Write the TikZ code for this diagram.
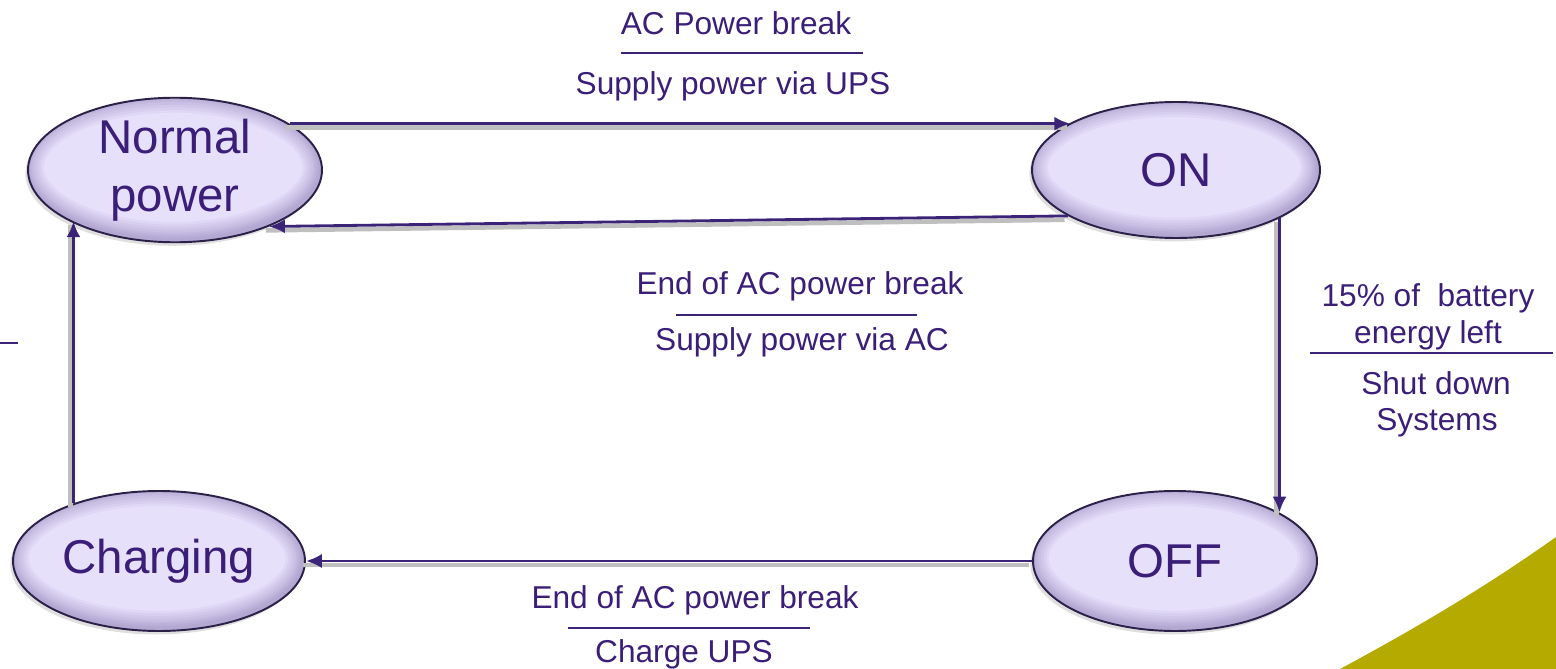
\documentclass[tikz,border=0pt]{standalone}
\usepackage{fontspec}
\setmainfont{Liberation Sans}
\usetikzlibrary{shapes.geometric,arrows.meta,shadows,calc}
\definecolor{txtc}{HTML}{3A1E78}
\definecolor{linec}{HTML}{3B2378}
\definecolor{rimc}{HTML}{2A2048}
\definecolor{lavin}{HTML}{E7E0FB}
\definecolor{lavrim}{HTML}{7A6AA6}
\definecolor{olivec}{HTML}{B5AA00}
\tikzset{
  state/.style={ellipse, inner sep=0pt, fill=lavin, draw=rimc, line width=1.1pt,
    text=txtc, font=\fontsize{27}{33}\selectfont, align=center,
    drop shadow={opacity=0.25, shadow xshift=-1.5pt, shadow yshift=-2pt},
    path picture={
      \foreach \w in {20pt,17pt,14pt,11pt,8pt,6pt,4pt,2pt}{
        \draw[lavrim, line width=\w, opacity=0.07]
          let \p1=($(path picture bounding box.north east)-(path picture bounding box.center)$) in
          ([xshift=-1pt,yshift=1.5pt]path picture bounding box.center) ellipse [x radius=\x1, y radius=\y1];
      }
    }},
  arr/.style={draw=linec, line width=1.6pt, -{Latex[length=9pt,width=8pt]},
    preaction={draw=black!25, line width=2.6pt, -, transform canvas={xshift=-1.8pt,yshift=-2.2pt}}},
  lbl/.style={text=txtc, font=\fontsize{18}{21}\selectfont, anchor=base, inner sep=0pt},
  sep/.style={draw=linec, line width=1pt},
}
\begin{document}
\begin{tikzpicture}[x=0.02cm, y=-0.02cm]
\useasboundingbox (0,0) rectangle (1556,669);
% decorative olive shape
\fill[olivec] (1340,669) .. controls (1420,626) and (1490,584) .. (1556,537) -- (1556,669) -- cycle;
% states
\node[state, minimum width=5.88cm, minimum height=2.8cm] (Normal) at (175,170) {Normal\\power};
\node[state, minimum width=5.76cm, minimum height=2.72cm] (ON) at (1176,170) {ON};
\node[state, minimum width=5.84cm, minimum height=2.8cm] (Charging) at (159,561) {Charging};
\node[state, minimum width=5.68cm, minimum height=2.8cm] (OFF) at (1175,561) {OFF};
% transitions
\draw[arr] (Normal.22.5) -- (Normal.22.5 -| ON.156.5);
\draw[arr] (ON.203.5) -- (Normal.-31);
\draw[arr] (ON.-25.6) -- (ON.-25.6 |- OFF.25.5);
\draw[arr] (OFF.west) -- (Charging.east);
\draw[arr] (Charging.146.6) -- (Charging.146.6 |- Normal.206.3);
% labels top
\node[lbl] (l1a) at (736,35) {AC Power break};
\coordinate (s1a) at (621,53); \coordinate (s1b) at (863,53);
\draw[sep] (s1a) -- (s1b);
\node[lbl] (l1b) at (733,95) {Supply power via UPS};
% labels middle
\node[lbl] (l2a) at (800,294) {End of AC power break};
\coordinate (s2a) at (676,315); \coordinate (s2b) at (917,315);
\draw[sep] (s2a) -- (s2b);
\node[lbl] (l2b) at (802,350) {Supply power via AC};
% labels right
\node[lbl] (l3a) at (1428,306) {15\% of\ \ battery};
\node[lbl] (l3b) at (1428,343) {energy left};
\coordinate (s3a) at (1310,353); \coordinate (s3b) at (1553,353);
\draw[sep] (s3a) -- (s3b);
\node[lbl] (l3c) at (1436,394) {Shut down};
\node[lbl] (l3d) at (1437,430) {Systems};
% labels bottom
\node[lbl] (l4a) at (695,608) {End of AC power break};
\coordinate (s4a) at (568,628); \coordinate (s4b) at (810,628);
\draw[sep] (s4a) -- (s4b);
\node[lbl] (l4b) at (684,662) {Charge UPS};
% stray mark at left
\coordinate (m1) at (0,343); \coordinate (m2) at (18,343);
\draw[sep] (m1) -- (m2);
\end{tikzpicture}
\end{document}
